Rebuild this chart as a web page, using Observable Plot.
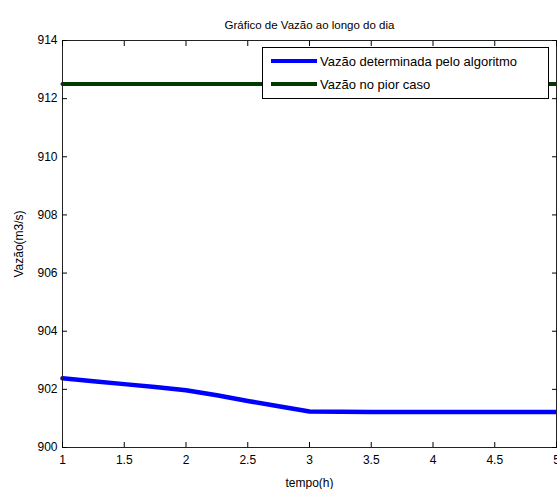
<!DOCTYPE html>
<html>
<head>
<meta charset="utf-8">
<script src="https://cdn.jsdelivr.net/npm/d3@7"></script>
<script src="https://cdn.jsdelivr.net/npm/@observablehq/plot@0.6"></script>
<style>
  html, body { margin: 0; padding: 0; background: white; }
  #wrap { position: relative; width: 557px; height: 489px; font-family: "Liberation Sans", Arial, sans-serif; }
  #legend { position: absolute; left: 262px; top: 47px; width: 285px; height: 50px; border: 1px solid black; background: white; font-size: 13px; }
  .row { position: absolute; left: 8px; display: flex; align-items: center; height: 20px; }
  .sw { width: 46px; height: 4px; margin-right: 3px; }
</style>
</head>
<body>
<div id="wrap"></div>
<script>
const title = "Gráfico de Vazão ao longo do dia";
const xLabel = "tempo(h)";
const yLabel = "Vazão(m3/s)";
const seriesNames = ["Vazão determinada pelo algoritmo", "Vazão no pior caso"];
const seriesColors = ["#0000ff", "#003c00"];
const hours = [1, 1.25, 1.5, 1.75, 2, 2.25, 2.5, 2.75, 3, 3.5, 4, 4.5, 5];
const flowAlg = [902.38, 902.28, 902.18, 902.08, 901.97, 901.8, 901.6, 901.42, 901.24, 901.22, 901.22, 901.22, 901.22];
const worstHours = [1, 5];
const worstFlow = [912.5, 912.5];
const xTicks = [1, 1.5, 2, 2.5, 3, 3.5, 4, 4.5, 5];
const yTicks = [900, 902, 904, 906, 908, 910, 912, 914];

const algData = hours.map((h, i) => ({h, v: flowAlg[i]}));
const worstData = worstHours.map((h, i) => ({h, v: worstFlow[i]}));

const chart = Plot.plot({
  width: 557,
  height: 489,
  marginLeft: 62,
  marginRight: 1,
  marginTop: 40,
  marginBottom: 42,
  x: {domain: [1, 5]},
  y: {domain: [900, 914]},
  style: {fontFamily: "Liberation Sans, Arial, sans-serif", fontSize: "12px", background: "white", color: "black"},
  marks: [
    Plot.line(worstData, {x: "h", y: "v", stroke: seriesColors[1], strokeWidth: 4}),
    Plot.line(algData, {x: "h", y: "v", stroke: seriesColors[0], strokeWidth: 4.5}),
    Plot.frame({stroke: "#222", strokeWidth: 1}),
    Plot.axisX({ticks: xTicks, tickSize: -5, tickPadding: 13, tickFormat: d => String(d), label: xLabel, labelAnchor: "center", labelArrow: "none", fontSize: 12}),
    Plot.axisX({anchor: "top", ticks: xTicks, tickSize: -5, tickFormat: () => "", label: null}),
    Plot.axisY({ticks: yTicks, tickSize: -5, tickPadding: 10, tickFormat: d => String(d), label: yLabel, labelAnchor: "center", labelArrow: "none", labelOffset: 48, fontSize: 12}),
    Plot.axisY({anchor: "right", ticks: yTicks, tickSize: -5, tickFormat: () => "", label: null}),
    Plot.text([title], {frameAnchor: "top", dy: -20, fontSize: 11.5, text: d => d})
  ]
});
const wrap = document.getElementById("wrap");
wrap.appendChild(chart);

const legend = document.createElement("div");
legend.id = "legend";
seriesNames.forEach((name, i) => {
  const row = document.createElement("div");
  row.className = "row";
  row.style.top = (3 + i * 23) + "px";
  const sw = document.createElement("div");
  sw.className = "sw";
  sw.style.background = seriesColors[i];
  const t = document.createElement("span");
  t.textContent = name;
  row.appendChild(sw);
  row.appendChild(t);
  legend.appendChild(row);
});
wrap.appendChild(legend);
</script>
</body>
</html>
